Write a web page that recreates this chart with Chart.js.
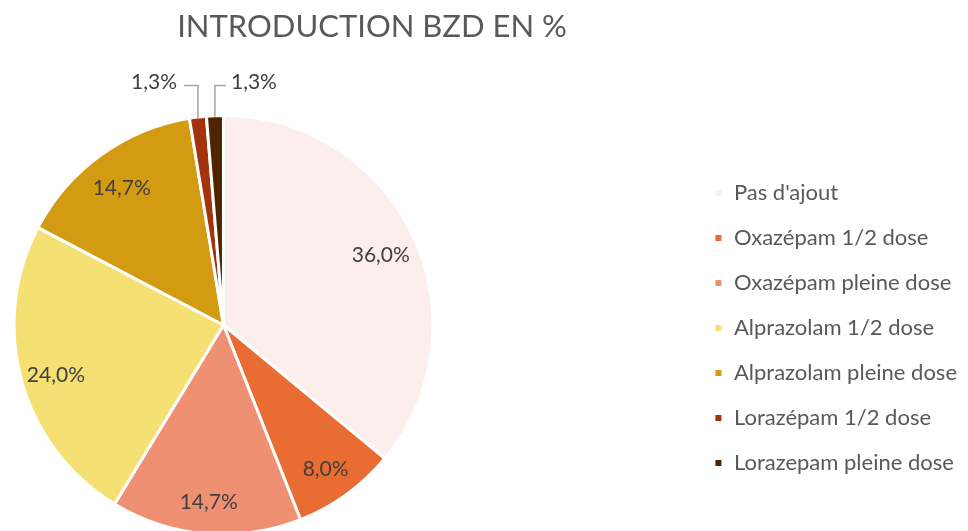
<!DOCTYPE html>
<html><head><meta charset="utf-8">
<script src="https://cdn.jsdelivr.net/npm/chart.js@4.4.0/dist/chart.umd.min.js"></script>
<style>
html,body{margin:0;padding:0;background:#fff;overflow:hidden;width:968px;height:531px}
#wrap{width:968px;height:545px;position:relative}
canvas{display:block}
</style></head>
<body><div id="wrap"><canvas id="c" width="968" height="545"></canvas></div>
<script>
const titleText = 'INTRODUCTION BZD EN %';
const categories = ["Pas d'ajout", 'Oxazépam 1/2 dose', 'Oxazépam pleine dose', 'Alprazolam 1/2 dose', 'Alprazolam pleine dose', 'Lorazépam 1/2 dose', 'Lorazepam pleine dose'];
const values = [36.0, 8.0, 14.7, 24.0, 14.7, 1.3, 1.3];
const colors = ['#FCEFEB', '#E96C33', '#EF9073', '#F5E074', '#D29B12', '#A4330C', '#4F2500'];

const FONT = 'Lato, "Open Sans", sans-serif';
const fmt = v => v.toFixed(1).replace('.', ',') + '%';

const labelPlugin = {
  id: 'sliceLabels',
  afterLayout(chart) {
    const t = chart.titleBlock;
    if (t) { t.left = chart.chartArea.left; t.right = 2 * 372 - t.left; }
  },
  afterDatasetsDraw(chart) {
    const ctx = chart.ctx;
    const meta = chart.getDatasetMeta(0);
    ctx.save();
    ctx.font = '21px ' + FONT;
    ctx.fillStyle = '#404040';
    let smallIdx = 0;
    meta.data.forEach((arc, i) => {
      const p = arc.getProps(['x', 'y', 'startAngle', 'endAngle', 'outerRadius'], true);
      const mid = (p.startAngle + p.endAngle) / 2;
      const txt = fmt(values[i]);
      if (values[i] >= 5) {
        const r = p.outerRadius * 0.83;
        ctx.textAlign = 'center';
        ctx.textBaseline = 'middle';
        ctx.fillText(txt, p.x + Math.cos(mid) * r, p.y + Math.sin(mid) * r + 4);
      } else {
        const px = p.x + Math.cos(mid) * (p.outerRadius - 1);
        const py = p.y + Math.sin(mid) * (p.outerRadius - 1);
        const ly = p.y - p.outerRadius - 30;
        const dir = (smallIdx++ % 2 === 0) ? -1 : 1;
        const hx = px + dir * (dir < 0 ? 14 : 11);
        ctx.strokeStyle = '#A6A6A6';
        ctx.lineWidth = 1.5;
        ctx.beginPath();
        ctx.moveTo(px, py); ctx.lineTo(px, ly); ctx.lineTo(hx, ly);
        ctx.stroke();
        ctx.textAlign = dir < 0 ? 'right' : 'left';
        ctx.textBaseline = 'middle';
        ctx.fillText(txt, hx + dir * (dir < 0 ? 7 : 5), ly - 3);
      }
    });
    ctx.restore();
  }
};

new Chart(document.getElementById('c'), {
  type: 'pie',
  data: {
    labels: categories,
    datasets: [{
      data: values,
      backgroundColor: colors,
      borderColor: '#ffffff',
      borderWidth: 3
    }]
  },
  plugins: [labelPlugin],
  options: {
    responsive: false,
    animation: false,
    devicePixelRatio: 1,
    layout: { padding: { left: 12.5, right: 1, top: 0, bottom: 8.5 } },
    plugins: {
      tooltip: { enabled: false },
      title: {
        display: true,
        text: titleText,
        color: '#595959',
        font: { family: FONT, size: 31, weight: 'normal', lineHeight: 1.2 },
        padding: { top: 8.5, bottom: 67.8 },
        position: 'top',
        fullSize: true
      },
      subtitle: {
        display: true,
        text: '',
        position: 'right',
        fullSize: false,
        weight: 500,
        font: { size: 10, lineHeight: 1.2 },
        padding: { top: 244.5, bottom: 0 }
      },
      legend: {
        display: true,
        position: 'right',
        fullSize: false,
        align: 'center',
        maxWidth: 360,
        title: { display: true, text: '', font: { size: 5, lineHeight: 1.2 }, padding: 0 },
        labels: {
          boxWidth: 9,
          boxHeight: 9,
          padding: 23,
          color: '#595959',
          font: { family: FONT, size: 22 }
        }
      }
    }
  }
});
</script>
</body></html>
